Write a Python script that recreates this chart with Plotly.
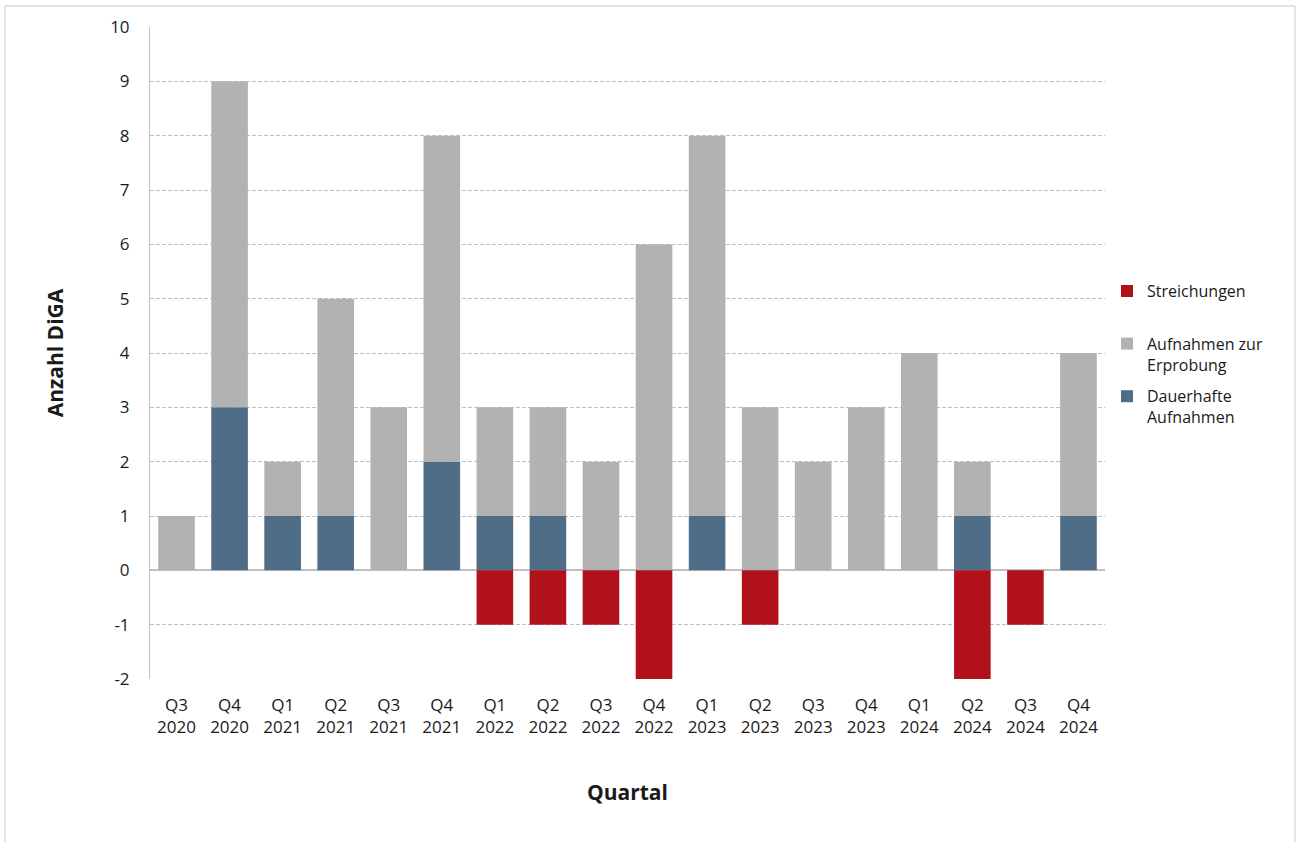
import plotly.graph_objects as go

# Data
quarters = ["Q3<br>2020", "Q4<br>2020", "Q1<br>2021", "Q2<br>2021", "Q3<br>2021", "Q4<br>2021",
            "Q1<br>2022", "Q2<br>2022", "Q3<br>2022", "Q4<br>2022", "Q1<br>2023", "Q2<br>2023",
            "Q3<br>2023", "Q4<br>2023", "Q1<br>2024", "Q2<br>2024", "Q3<br>2024", "Q4<br>2024"]
dauerhaft = [0, 3, 1, 1, 0, 2, 1, 1, 0, 0, 1, 0, 0, 0, 0, 1, 0, 1]
erprobung = [1, 6, 1, 4, 3, 6, 2, 2, 2, 6, 7, 3, 2, 3, 4, 1, 0, 3]
streichungen = [0, 0, 0, 0, 0, 0, -1, -1, -1, -2, 0, -1, 0, 0, 0, -2, -1, 0]
y_ticks = list(range(-2, 11))
y_ticklabels = [str(v) for v in y_ticks]  # plain hyphen, as in the original

font = "Open Sans"
text_color = "#1a1a1a"
grid_color = "#c0c0c0"

fig = go.Figure()
fig.add_trace(go.Bar(x=quarters, y=dauerhaft, name="Dauerhafte<br>Aufnahmen",
                     legendgroup="d", legendrank=3,
                     marker=dict(color="#4f6d86", line=dict(width=0))))
fig.add_trace(go.Bar(x=quarters, y=erprobung, name="Aufnahmen zur<br>Erprobung",
                     legendgroup="e", legendrank=2,
                     marker=dict(color="#b2b2b2", line=dict(width=0))))
fig.add_trace(go.Bar(x=quarters, y=streichungen, name="Streichungen<br>&nbsp;",
                     legendgroup="s", legendrank=1,
                     marker=dict(color="#b0111b", line=dict(width=0))))

# Layout
W, H = 1298, 842
ml, mr, mt, mb = 150, 193, 27, 163
pw, ph = W - ml - mr, H - mt - mb

fig.update_layout(
    width=W, height=H,
    margin=dict(l=ml, r=mr, t=mt, b=mb),
    barmode="relative",
    bargap=0.31,
    plot_bgcolor="white",
    paper_bgcolor="white",
    font=dict(family=font, size=17, color=text_color),
    legend=dict(
        traceorder="grouped",
        x=(1107 - ml) / pw, y=0.621, xanchor="left", yanchor="top",
        font=dict(size=16, color=text_color),
        valign="top",
        tracegroupgap=8,
    ),
    xaxis=dict(
        title=dict(text="<b>Quartal</b>", font=dict(size=21), standoff=48),
        showgrid=False, ticks="", tickfont=dict(size=17),
        showline=False, ticklabelstandoff=14,
    ),
    yaxis=dict(
        title=dict(text="<b>Anzahl DiGA</b>", font=dict(size=21), standoff=40),
        range=[-2, 10], tickmode="array", tickvals=y_ticks, ticktext=y_ticklabels,
        tickfont=dict(size=17),
        showgrid=True, gridcolor=grid_color, griddash="4px,2px", gridwidth=1,
        zeroline=True, zerolinecolor=grid_color, zerolinewidth=1.5,
        showline=True, linecolor=grid_color, linewidth=1,
        ticks="", ticklabelstandoff=16,
    ),
)

# Outer frame around the chart
fig.add_shape(type="rect", xref="paper", yref="paper",
              x0=(5 - ml) / pw, x1=(1295 - ml) / pw,
              y0=(H - mb - 850) / ph, y1=(H - mb - 6) / ph,
              line=dict(color="#c8c8c8", width=1), layer="below")

fig.write_html("out.html", config={"displayModeBar": False},
               post_script="document.body.style.margin='0';")
